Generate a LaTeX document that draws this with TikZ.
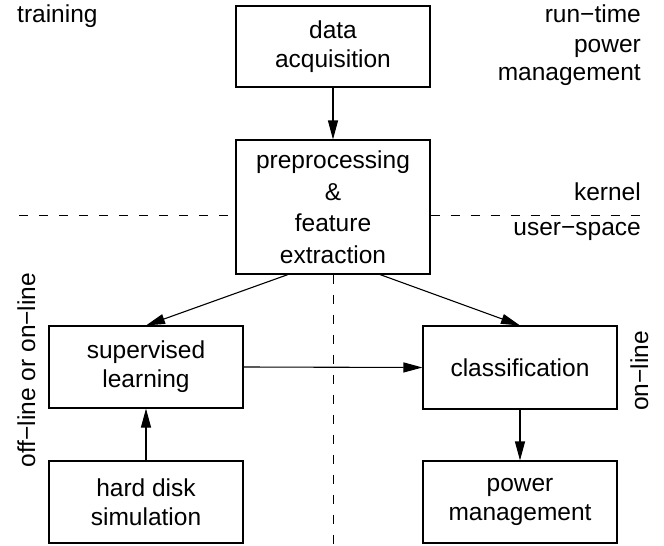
\documentclass[tikz,border=0pt]{standalone}
\usepackage{fontspec}
\setmainfont{Liberation Sans}
\usetikzlibrary{arrows.meta,calc}
\tikzset{
  box/.style={draw, line width=1.1pt, minimum width=194pt, align=center, inner sep=0pt,
    font=\fontsize{24.5}{29}\selectfont},
  arr/.style={line width=1.1pt, -{Triangle[length=19pt,width=10pt]}},
  dashline/.style={line width=1pt, dash pattern=on 9pt off 11pt},
  lbl/.style={inner sep=0pt, font=\fontsize{24.5}{29}\selectfont},
}
\begin{document}
\begin{tikzpicture}[x=1pt,y=-1pt]
\useasboundingbox (0,0) rectangle (664,546);
% boxes
\node[box, minimum height=81pt] (data) at (333,46.5) {data\\acquisition};
\node[box, minimum height=134pt, font=\fontsize{24.5}{31.5}\selectfont] (pre) at (333,207) {preprocessing\\\&\\feature\\extraction};
\node[box, minimum height=82pt] (sup) at (146,367) {supervised\\learning};
\node[box, minimum height=82pt] (hd) at (146,502) {hard disk\\simulation};
\node[box, minimum height=83pt] (cls) at (520,367.5) {classification};
\node[box, minimum height=82pt] (pm) at (520,502) {power\\management};
% labels
\node[lbl, anchor=base west] (train) at (17,23) {training};
\node[lbl, anchor=base east] (rt1) at (641,23) {run−time};
\node[lbl, anchor=base east] (rt2) at (641,52) {power};
\node[lbl, anchor=base east] (rt3) at (641,80.5) {management};
\node[lbl, anchor=base east] (kern) at (641,200) {kernel};
\node[lbl, anchor=base east] (user) at (641,235) {user−space};
\node[lbl, anchor=base, rotate=90] (offon) at (35,370) {off−line or on−line};
\node[lbl, anchor=base, rotate=90] (onl) at (648,371) {on−line};
% dashed separators
\coordinate (kl) at (19,215);
\coordinate (kr) at (641,215);
\coordinate (vb) at (333,546);
\draw[dashline] (kl) -- (kl -| pre.west);
\draw[dashline] (kr -| pre.east) -- (kr);
\draw[dashline] (pre.south) -- (vb);
% arrows
\draw[arr] (data.south) -- (pre.north);
\draw[arr] ($(pre.south)+(-45,0)$) -- (sup.north);
\draw[arr] ($(pre.south)+(47,0)$) -- (cls.north);
\draw[arr] (sup.east) -- (cls.west);
\draw[arr] (hd.north) -- (sup.south);
\draw[arr] (cls.south) -- (pm.north);
\end{tikzpicture}
\end{document}
